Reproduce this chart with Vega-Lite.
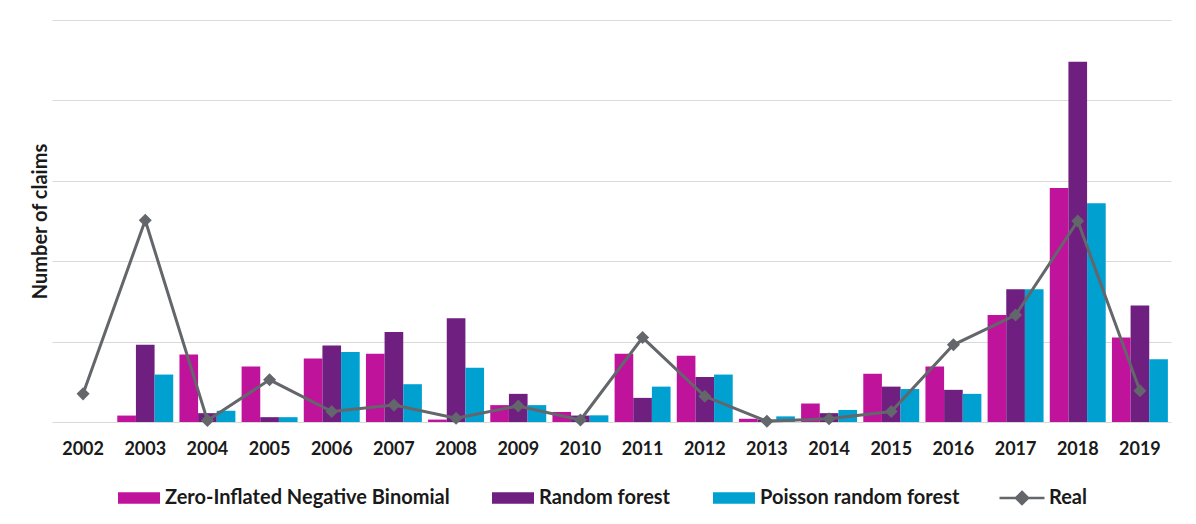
{
  "$schema": "https://vega.github.io/schema/vega-lite/v6.json",
  "width": 1119,
  "height": 402,
  "autosize": {"type": "none"},
  "padding": {"left": 52, "top": 20, "right": 25, "bottom": 102},
  "background": "white",
  "config": {
    "view": {"stroke": null},
    "font": "Lato",
    "axis": {"labelFont": "Lato", "titleFont": "Lato"},
    "legend": {"labelFont": "Lato"}
  },
  "data": {
    "values": [
      {"year": "2002", "model": "Zero-Inflated Negative Binomial", "claims": 0},
      {"year": "2002", "model": "Random forest", "claims": 0},
      {"year": "2002", "model": "Poisson random forest", "claims": 0},
      {"year": "2002", "model": "Real", "claims": 3.5},
      {"year": "2003", "model": "Zero-Inflated Negative Binomial", "claims": 0.8},
      {"year": "2003", "model": "Random forest", "claims": 9.6},
      {"year": "2003", "model": "Poisson random forest", "claims": 5.9},
      {"year": "2003", "model": "Real", "claims": 25.1},
      {"year": "2004", "model": "Zero-Inflated Negative Binomial", "claims": 8.4},
      {"year": "2004", "model": "Random forest", "claims": 1.1},
      {"year": "2004", "model": "Poisson random forest", "claims": 1.4},
      {"year": "2004", "model": "Real", "claims": 0.2},
      {"year": "2005", "model": "Zero-Inflated Negative Binomial", "claims": 6.9},
      {"year": "2005", "model": "Random forest", "claims": 0.6},
      {"year": "2005", "model": "Poisson random forest", "claims": 0.6},
      {"year": "2005", "model": "Real", "claims": 5.25},
      {"year": "2006", "model": "Zero-Inflated Negative Binomial", "claims": 7.9},
      {"year": "2006", "model": "Random forest", "claims": 9.5},
      {"year": "2006", "model": "Poisson random forest", "claims": 8.7},
      {"year": "2006", "model": "Real", "claims": 1.3},
      {"year": "2007", "model": "Zero-Inflated Negative Binomial", "claims": 8.5},
      {"year": "2007", "model": "Random forest", "claims": 11.2},
      {"year": "2007", "model": "Poisson random forest", "claims": 4.7},
      {"year": "2007", "model": "Real", "claims": 2.1},
      {"year": "2008", "model": "Zero-Inflated Negative Binomial", "claims": 0.3},
      {"year": "2008", "model": "Random forest", "claims": 12.9},
      {"year": "2008", "model": "Poisson random forest", "claims": 6.75},
      {"year": "2008", "model": "Real", "claims": 0.46},
      {"year": "2009", "model": "Zero-Inflated Negative Binomial", "claims": 2.1},
      {"year": "2009", "model": "Random forest", "claims": 3.5},
      {"year": "2009", "model": "Poisson random forest", "claims": 2.1},
      {"year": "2009", "model": "Real", "claims": 2.0},
      {"year": "2010", "model": "Zero-Inflated Negative Binomial", "claims": 1.25},
      {"year": "2010", "model": "Random forest", "claims": 0.8},
      {"year": "2010", "model": "Poisson random forest", "claims": 0.83},
      {"year": "2010", "model": "Real", "claims": 0.25},
      {"year": "2011", "model": "Zero-Inflated Negative Binomial", "claims": 8.5},
      {"year": "2011", "model": "Random forest", "claims": 3.0},
      {"year": "2011", "model": "Poisson random forest", "claims": 4.4},
      {"year": "2011", "model": "Real", "claims": 10.5},
      {"year": "2012", "model": "Zero-Inflated Negative Binomial", "claims": 8.25},
      {"year": "2012", "model": "Random forest", "claims": 5.6},
      {"year": "2012", "model": "Poisson random forest", "claims": 5.9},
      {"year": "2012", "model": "Real", "claims": 3.2},
      {"year": "2013", "model": "Zero-Inflated Negative Binomial", "claims": 0.4},
      {"year": "2013", "model": "Random forest", "claims": 0.3},
      {"year": "2013", "model": "Poisson random forest", "claims": 0.7},
      {"year": "2013", "model": "Real", "claims": 0.1},
      {"year": "2014", "model": "Zero-Inflated Negative Binomial", "claims": 2.3},
      {"year": "2014", "model": "Random forest", "claims": 1.1},
      {"year": "2014", "model": "Poisson random forest", "claims": 1.5},
      {"year": "2014", "model": "Real", "claims": 0.4},
      {"year": "2015", "model": "Zero-Inflated Negative Binomial", "claims": 6.0},
      {"year": "2015", "model": "Random forest", "claims": 4.4},
      {"year": "2015", "model": "Poisson random forest", "claims": 4.1},
      {"year": "2015", "model": "Real", "claims": 1.3},
      {"year": "2016", "model": "Zero-Inflated Negative Binomial", "claims": 6.9},
      {"year": "2016", "model": "Random forest", "claims": 4.0},
      {"year": "2016", "model": "Poisson random forest", "claims": 3.5},
      {"year": "2016", "model": "Real", "claims": 9.6},
      {"year": "2017", "model": "Zero-Inflated Negative Binomial", "claims": 13.3},
      {"year": "2017", "model": "Random forest", "claims": 16.5},
      {"year": "2017", "model": "Poisson random forest", "claims": 16.5},
      {"year": "2017", "model": "Real", "claims": 13.3},
      {"year": "2018", "model": "Zero-Inflated Negative Binomial", "claims": 29.1},
      {"year": "2018", "model": "Random forest", "claims": 44.8},
      {"year": "2018", "model": "Poisson random forest", "claims": 27.2},
      {"year": "2018", "model": "Real", "claims": 25.0},
      {"year": "2019", "model": "Zero-Inflated Negative Binomial", "claims": 10.5},
      {"year": "2019", "model": "Random forest", "claims": 14.5},
      {"year": "2019", "model": "Poisson random forest", "claims": 7.8},
      {"year": "2019", "model": "Real", "claims": 3.9}
    ]
  },
  "encoding": {
    "x": {
      "field": "year",
      "type": "nominal",
      "scale": {"paddingInner": 0.1, "paddingOuter": 0.05},
      "axis": {
        "title": null,
        "labelAngle": 0,
        "labelFontSize": 18,
        "labelFontWeight": "bold",
        "labelColor": "#1a1a1a",
        "labelPadding": 18,
        "ticks": false,
        "domain": false
      }
    },
    "y": {
      "field": "claims",
      "type": "quantitative",
      "scale": {"domain": [0, 50], "nice": false},
      "axis": {
        "title": "Number of claims",
        "titleFontSize": 20,
        "titleFontWeight": "bold",
        "titleColor": "#1a1a1a",
        "titlePadding": 2,
        "labels": false,
        "ticks": false,
        "domain": false,
        "values": [0, 10, 20, 30, 40, 50],
        "grid": true,
        "gridColor": "#d9d9d9",
        "gridWidth": 1
      }
    }
  },
  "layer": [
    {
      "transform": [{"filter": "datum.model !== 'Real'"}],
      "mark": {"type": "bar"},
      "encoding": {
        "xOffset": {
          "field": "model",
          "type": "nominal",
          "sort": ["Zero-Inflated Negative Binomial", "Random forest", "Poisson random forest"],
          "scale": {"paddingInner": 0, "paddingOuter": 0}
        },
        "color": {
          "field": "model",
          "type": "nominal",
          "sort": ["Zero-Inflated Negative Binomial", "Random forest", "Poisson random forest"],
          "scale": {
            "domain": ["Zero-Inflated Negative Binomial", "Random forest", "Poisson random forest"],
            "range": ["#C0139C", "#6E1F7F", "#00A0D1"]
          },
          "legend": {
            "title": null,
            "orient": "none",
            "direction": "horizontal",
            "legendX": 66,
            "legendY": 457,
            "padding": 0,
            "symbolType": "M-1,-0.27H1V0.27H-1Z",
            "symbolSize": 1764,
            "symbolStrokeWidth": 0,
            "labelOffset": 5,
            "columnPadding": 42,
            "labelFontSize": 20,
            "labelFontWeight": "bold",
            "labelColor": "#1a1a1a",
            "labelLimit": 0
          }
        }
      }
    },
    {
      "transform": [{"filter": "datum.model === 'Real'"}],
      "mark": {"type": "line", "strokeWidth": 3},
      "encoding": {
        "stroke": {
          "field": "model",
          "type": "nominal",
          "scale": {"domain": ["Real"], "range": ["#63666A"]},
          "legend": {
            "title": null,
            "orient": "none",
            "direction": "horizontal",
            "legendX": 946,
            "legendY": 454,
            "padding": 0,
            "symbolType": "M-1,0H1M0,-0.27L0.27,0L0,0.27L-0.27,0Z",
            "symbolSize": 2025,
            "symbolStrokeWidth": 2.5,
            "symbolFillColor": "#63666A",
            "labelOffset": 3,
            "labelFontSize": 20,
            "labelFontWeight": "bold",
            "labelColor": "#1a1a1a"
          }
        }
      }
    },
    {
      "transform": [{"filter": "datum.model === 'Real'"}],
      "mark": {"type": "point", "shape": "diamond", "filled": true, "size": 170, "color": "#63666A", "opacity": 1},
      "encoding": {}
    }
  ]
}
